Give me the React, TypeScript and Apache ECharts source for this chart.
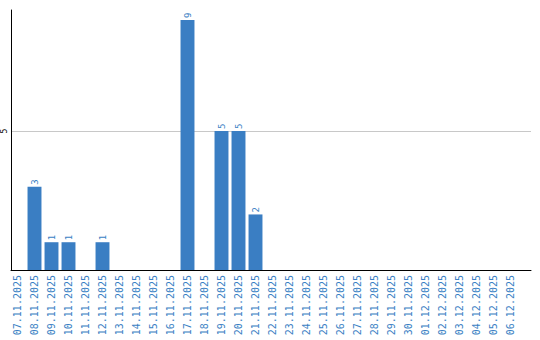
import React, { useEffect, useRef } from "react";
import * as echarts from "echarts";

const categories: string[] = [
  "07.11.2025", "08.11.2025", "09.11.2025", "10.11.2025", "11.11.2025",
  "12.11.2025", "13.11.2025", "14.11.2025", "15.11.2025", "16.11.2025",
  "17.11.2025", "18.11.2025", "19.11.2025", "20.11.2025", "21.11.2025",
  "22.11.2025", "23.11.2025", "24.11.2025", "25.11.2025", "26.11.2025",
  "27.11.2025", "28.11.2025", "29.11.2025", "30.11.2025", "01.12.2025",
  "02.12.2025", "03.12.2025", "04.12.2025", "05.12.2025", "06.12.2025",
];

const values: (number | null)[] = [
  null, 3, 1, 1, null, 1, null, null, null, null,
  9, null, 5, 5, 2, null, null, null, null, null,
  null, null, null, null, null, null, null, null, null, null,
];

const yMax = 9.36;
const yInterval = 5;

export default function App() {
  const ref = useRef<HTMLDivElement>(null);
  useEffect(() => {
    document.body.style.margin = "0";
    const chart = echarts.init(ref.current!, undefined, { renderer: "svg" });
    chart.setOption({
      animation: false,
      grid: [
        { left: 9, right: 21, top: 10, bottom: 70 },
        { left: 10, right: 9, top: 10, bottom: 70 },
      ],
      xAxis: [
        {
          gridIndex: 0,
          type: "category",
          data: categories,
          axisLine: { show: false },
          axisTick: { show: false },
          axisLabel: {
            rotate: 90,
            interval: 0,
            color: "#3a7fc4",
            fontFamily: "DejaVu Sans Mono",
            fontSize: 10,
            margin: 5,
          },
        },
        {
          gridIndex: 1,
          type: "value",
          min: 0,
          max: 1,
          axisLine: { show: true, lineStyle: { color: "#000", width: 1 } },
          axisTick: { show: false },
          axisLabel: { show: false },
          splitLine: { show: false },
        },
      ],
      yAxis: [
        {
          gridIndex: 0,
          type: "value",
          min: 0,
          max: yMax,
          interval: yInterval,
          axisLine: { show: false },
          axisTick: { show: false },
          axisLabel: { show: false },
          splitLine: { show: false },
        },
        {
          gridIndex: 1,
          type: "value",
          min: 0,
          max: yMax,
          interval: yInterval,
          axisLine: { show: true, lineStyle: { color: "#000", width: 1 } },
          axisTick: { show: false },
          axisLabel: {
            rotate: 90,
            showMinLabel: false,
            showMaxLabel: false,
            color: "#000",
            fontFamily: "DejaVu Sans Mono",
            fontSize: 8,
            margin: 3,
          },
          splitLine: {
            show: true,
            showMinLine: false,
            showMaxLine: false,
            lineStyle: { color: "#c8c8c8", width: 1 },
          },
        },
      ],
      series: [
        {
          type: "bar",
          xAxisIndex: 0,
          yAxisIndex: 0,
          data: values,
          barCategoryGap: "18%",
          itemStyle: { color: "#3a7ec3" },
          label: {
            show: true,
            position: "top",
            rotate: 90,
            align: "left",
            verticalAlign: "middle",
            distance: 2,
            color: "#3a7fc4",
            fontFamily: "DejaVu Sans Mono",
            fontSize: 9,
          },
        },
      ],
    });
    return () => chart.dispose();
  }, []);
  return <div ref={ref} style={{ width: 540, height: 340 }} />;
}
